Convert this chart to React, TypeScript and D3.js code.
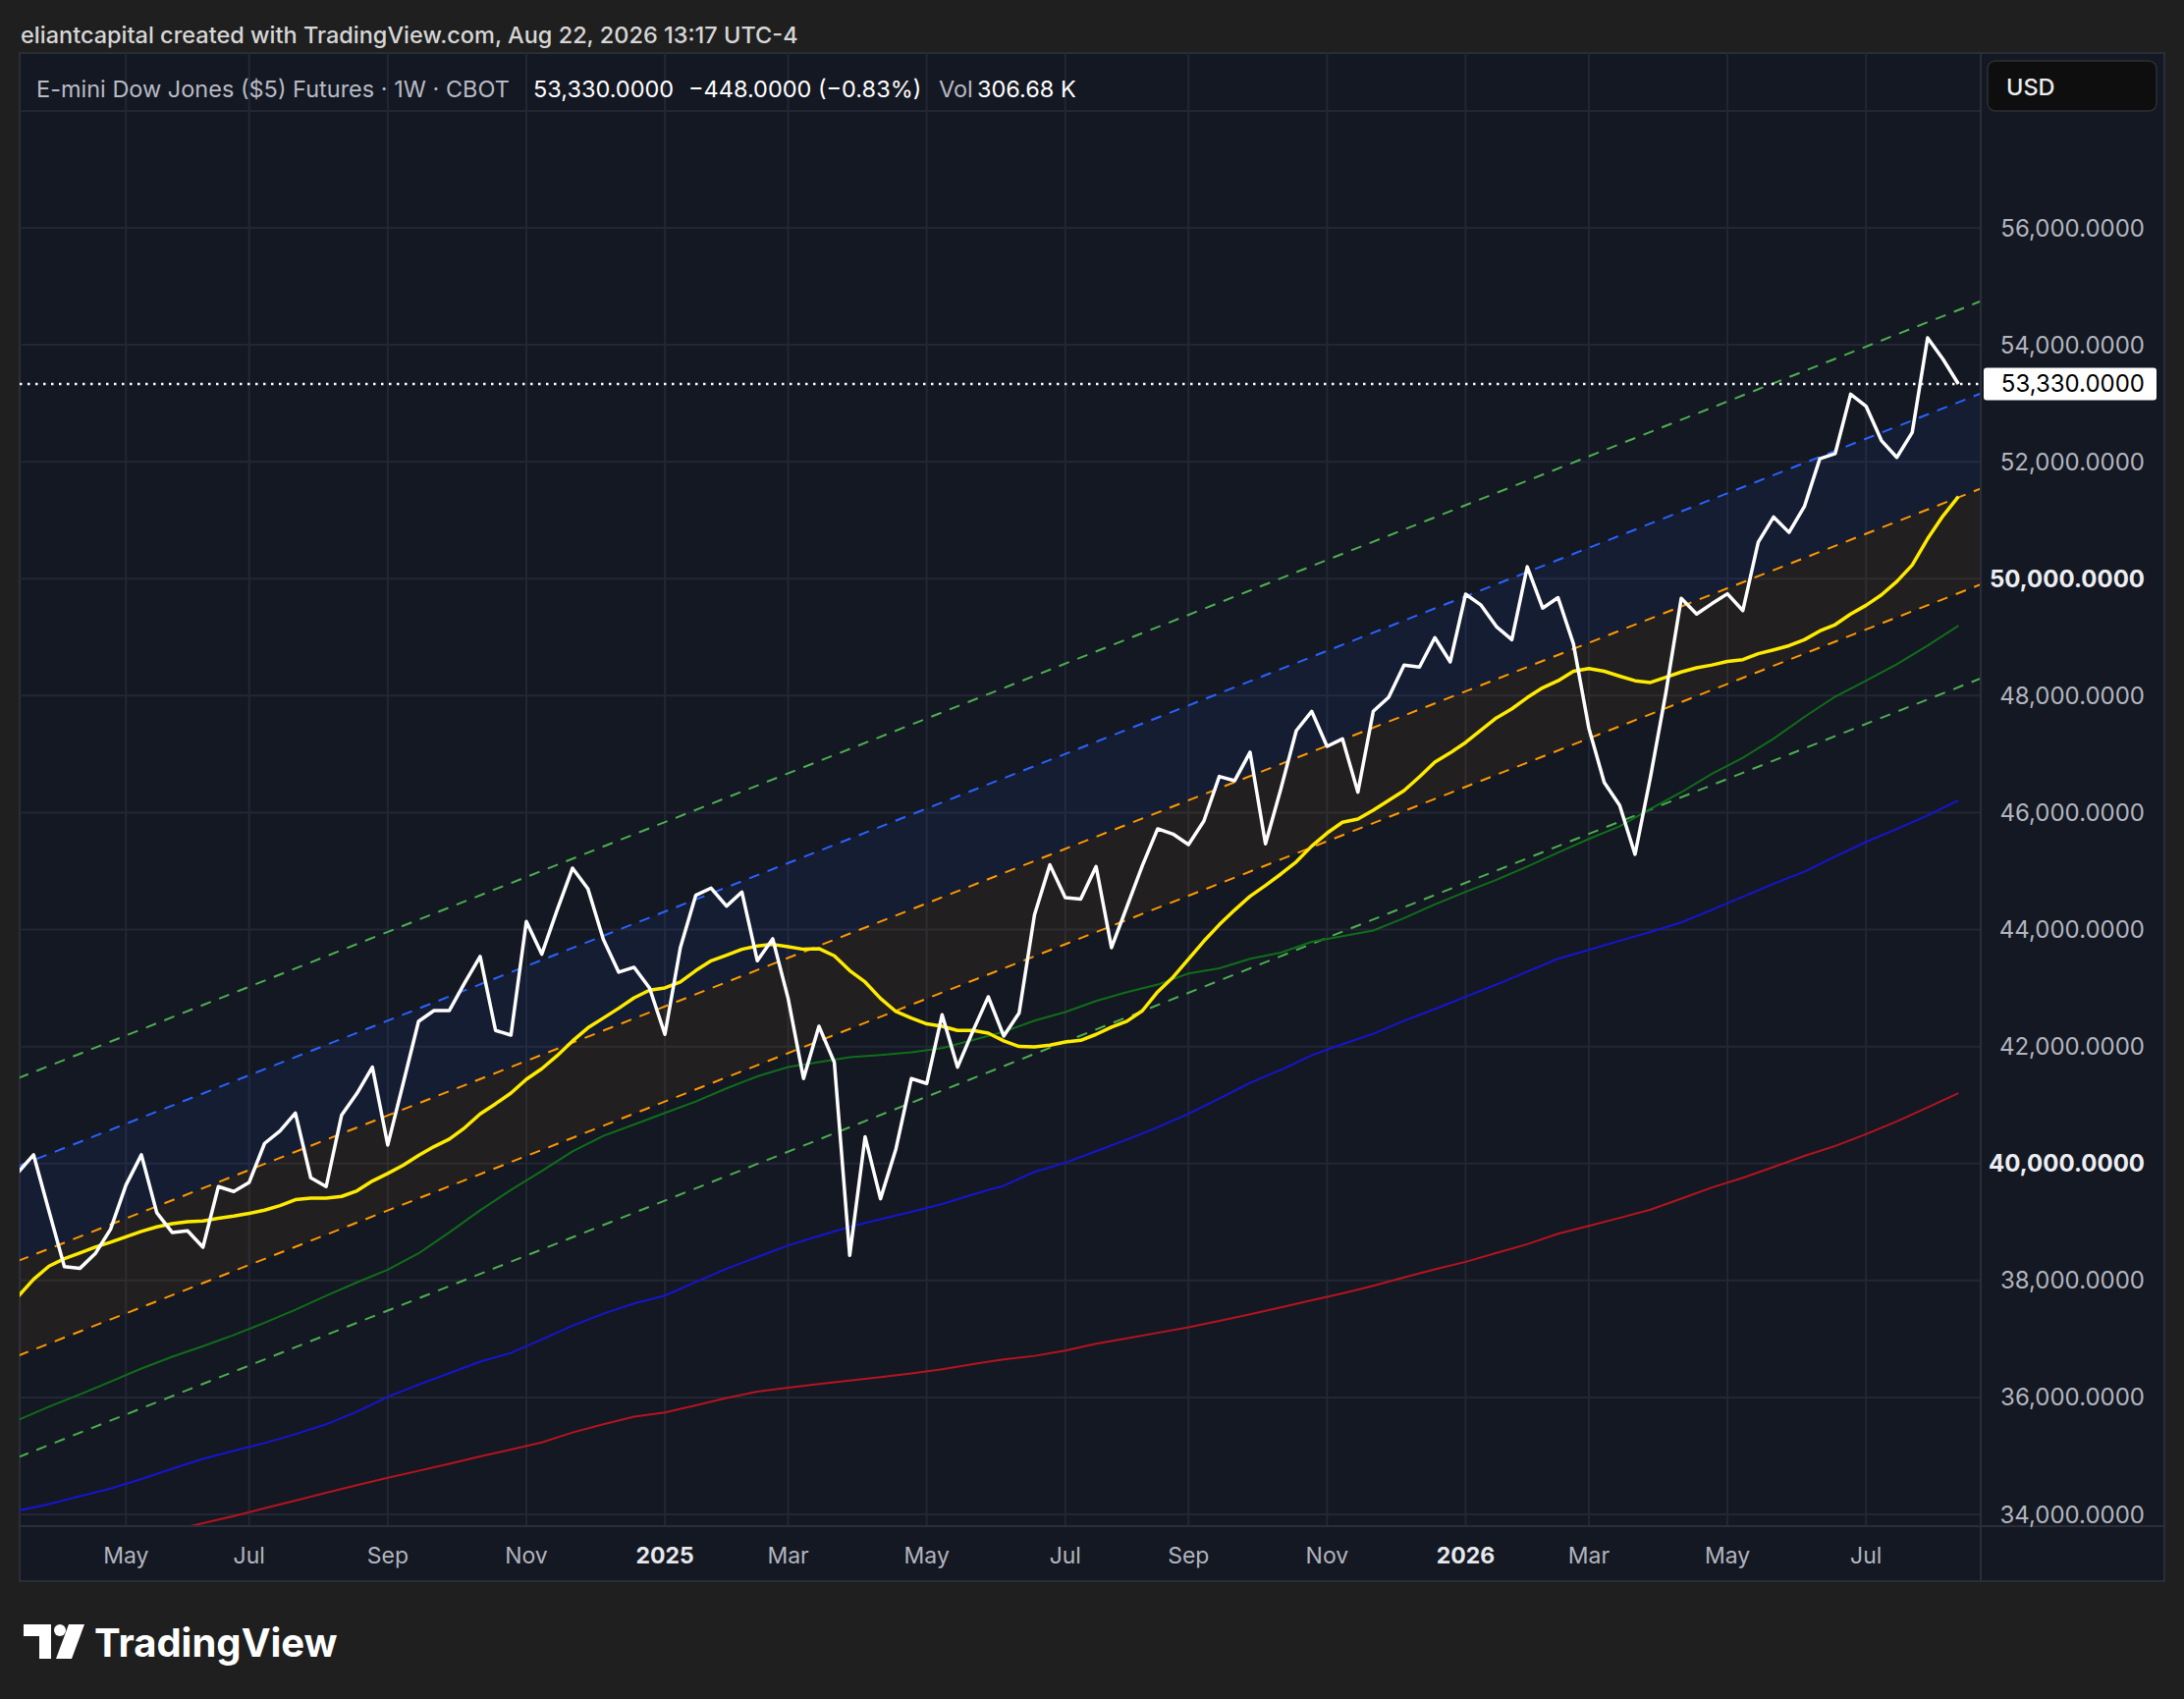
import React from 'react';
import * as d3 from 'd3';

const W = 2224;
const H = 1730;

// weekly closes, week of 18 Mar 2024 through week of 17 Aug 2026
const firstWeek = '2024-03-18';
const closes = [
  39850, 40148, 39185, 38235, 38205, 38457, 38877,
  39633, 40148, 39157, 38821, 38849, 38569, 39605, 39521, 39677, 40344,
  40556, 40864, 39756, 39605, 40825, 41200, 41648, 40316, 41368, 42431,
  42616, 42616, 43092, 43540, 42275, 42196, 44139, 43579, 44334, 45051,
  44698, 43831, 43271, 43355, 43002, 42207, 43691, 44586, 44710, 44402,
  44642, 43467, 43842, 42823, 41452, 42347, 41732, 38429, 40456, 39397,
  40248, 41452, 41368, 42543, 41648, 42264, 42851, 42179, 42572, 44251,
  45107, 44548, 44520, 45079, 43691, 44391, 45090, 45723, 45633, 45454,
  45857, 46619, 46546, 47033, 45465, 46406, 47402, 47732, 47133, 47262,
  46350, 47732, 47973, 48522, 48488, 48992, 48578, 49736, 49548, 49180,
  48957, 50204, 49497, 49676, 48885, 47445, 46516, 46126, 45287, 46606,
  48045, 49665, 49395, 49575, 49742, 49455, 50624, 51056, 50792, 51236,
  52051, 52141, 53155, 52951, 52363, 52075, 52501, 54120, 53754, 53330,
];

// yellow average, same weeks
const fastMa = [
  37730, 38021, 38245, 38373, 38469, 38569, 38653,
  38748, 38838, 38916, 38972, 39006, 39017, 39062, 39101, 39146, 39202,
  39280, 39381, 39409, 39409, 39437, 39532, 39700, 39829, 39969, 40137,
  40288, 40417, 40612, 40847, 41021, 41205, 41440, 41620, 41844, 42096,
  42320, 42487, 42655, 42834, 42963, 43002, 43103, 43299, 43467, 43562,
  43663, 43719, 43747, 43707, 43663, 43674, 43551, 43299, 43103, 42823,
  42599, 42487, 42387, 42347, 42275, 42275, 42230, 42096, 42001, 41995,
  42023, 42079, 42107, 42208, 42331, 42432, 42611, 42935, 43187, 43495,
  43803, 44083, 44335, 44570, 44755, 44950, 45158, 45426, 45650, 45835,
  45891, 46042, 46210, 46378, 46613, 46865, 47022, 47201, 47410, 47620,
  47775, 47967, 48135, 48255, 48417, 48465, 48417, 48333, 48255, 48225,
  48315, 48405, 48477, 48525, 48585, 48615, 48717, 48783, 48855, 48957,
  49107, 49215, 49395, 49545, 49724, 49952, 50234, 50684, 51074, 51404,
];

// slower averages, read every second week from firstWeek
const greenMa = [
  35614, 35841, 36051, 36270, 36494, 36695, 36877, 37067, 37276, 37500,
  37738, 37968, 38183, 38463, 38821, 39199, 39549, 39873, 40209, 40472,
  40668, 40864, 41060, 41284, 41491, 41648, 41732, 41816, 41855, 41900,
  41972, 42112, 42252, 42443, 42590, 42779, 42930, 43059, 43250, 43339,
  43500, 43607, 43790, 43887, 43985, 44195, 44430, 44645, 44850, 45077,
  45317, 45550, 45766, 46066, 46348, 46666, 46936, 47266, 47637, 47985,
  48255, 48537, 48855, 49197,
];
const blueMa = [
  34064, 34176, 34310, 34442, 34605, 34780, 34948, 35088, 35220, 35371,
  35540, 35758, 36009, 36219, 36415, 36611, 36760, 36991, 37226, 37433,
  37606, 37741, 37975, 38200, 38400, 38600, 38760, 38916, 39045, 39174,
  39308, 39470, 39620, 39857, 40014, 40210, 40410, 40620, 40850, 41110,
  41380, 41600, 41850, 42040, 42219, 42440, 42640, 42852, 43060, 43280,
  43500, 43652, 43810, 43960, 44122, 44340, 44560, 44783, 44990, 45250,
  45499, 45720, 45950, 46210,
];
// red starts lower left, below the visible range
const redStart = '2024-05-27';
const redMa = [
  33725, 33850, 33970, 34105, 34235, 34370, 34500, 34625, 34745, 34865,
  34990, 35110, 35230, 35400, 35540, 35670, 35742, 35865, 35990, 36100,
  36165, 36230, 36290, 36347, 36410, 36480, 36570, 36650, 36710, 36800,
  36919, 37010, 37105, 37198, 37310, 37422, 37540, 37660, 37780, 37910,
  38050, 38190, 38318, 38470, 38620, 38800, 38934, 39070, 39210, 39400,
  39590, 39755, 39941, 40130, 40300, 40501, 40720, 40960, 41201,
];

// regression channel, value at the two end weeks
const channelWeeks = ['2024-03-18', '2026-08-31'];
const outerUpper = [41459, 54803];
const upperBand = [39954, 53224];
const midUpper = [38335, 51598];
const midLower = [36713, 49960];
const outerLower = [34977, 48353];

const gridPrices = [34000, 36000, 38000, 40000, 42000, 44000, 46000, 48000, 50000, 52000, 54000, 56000, 58000];
const labelPrices = [34000, 36000, 38000, 40000, 42000, 44000, 46000, 48000, 50000, 52000, 54000, 56000];
const boldPrices = [40000, 50000];
const lastPrice = 53330;

const FONT = "Inter, 'Noto Sans', Roboto, sans-serif";
const BG = '#1f1f1f';
const PANEL = '#141823';
const BORDER = '#2a2e39';
const GRID = '#232734';

const fmt = (v: number) => d3.format(',.4f')(v);

export default function App() {
  const left = 20, right = 2017, top = 54, bottom = 1554;
  const panelRight = 2204, panelBottom = 1610;

  const x = d3.scaleUtc()
    .domain([new Date('2024-05-06'), new Date('2026-01-05')])
    .range([128.3, 1492.5]);
  const y = d3.scaleLinear().domain([34000, 56000]).range([1542, 232]);

  const series = (start: string, step: number, vals: number[]) =>
    vals.map((v, i) => [d3.utcDay.offset(new Date(start), step * i), v] as [Date, number]);

  const line = d3.line<[Date, number]>().x(d => x(d[0])).y(d => y(d[1]));

  const closeData = series(firstWeek, 7, closes);
  const fastData = series(firstWeek, 7, fastMa);
  const greenData = series(firstWeek, 14, greenMa);
  const blueData = series(firstWeek, 14, blueMa);
  const redData = series(redStart, 14, redMa);

  const chDates = channelWeeks.map(s => new Date(s));
  const chLine = (vals: number[]) => line(chDates.map((d, i) => [d, vals[i]] as [Date, number])) || '';
  const band = (hi: number[], lo: number[]) =>
    d3.area<number>()
      .x(i => x(chDates[i]))
      .y0(i => y(lo[i]))
      .y1(i => y(hi[i]))([0, 1]) || '';

  // first weekly bar of every second month
  const monthTicks = closeData
    .map(d => d[0])
    .filter((d, i, arr) => i > 0 && d.getUTCMonth() !== arr[i - 1].getUTCMonth() && d.getUTCMonth() % 2 === 0);

  const yLast = y(lastPrice);

  return (
    <svg width={W} height={H} style={{ position: 'absolute', left: 0, top: 0, display: 'block' }} fontFamily={FONT}>
      <defs>
        <clipPath id="plot">
          <rect x={left} y={top} width={right - left} height={bottom - top} />
        </clipPath>
      </defs>
      <rect width={W} height={H} fill={BG} />

      <text x={21} y={35} fontSize={23.5} fontWeight={500} fill="#d6d6d6" dominantBaseline="central">
        eliantcapital created with TradingView.com, Aug 22, 2026 13:17 UTC-4
      </text>

      <rect x={left} y={top} width={panelRight - left} height={panelBottom - top} fill={PANEL} stroke={BORDER} strokeWidth={2} />

      <g clipPath="url(#plot)">
        {gridPrices.map(p => (
          <line key={p} x1={left} x2={right} y1={y(p)} y2={y(p)} stroke={GRID} strokeWidth={2} />
        ))}
        {monthTicks.map(d => (
          <line key={+d} x1={x(d)} x2={x(d)} y1={top} y2={bottom} stroke={GRID} strokeWidth={2} />
        ))}

        <path d={band(upperBand, midUpper)} fill="rgba(41,98,255,0.075)" />
        <path d={band(midUpper, midLower)} fill="rgba(255,152,0,0.06)" />

        <path d={chLine(outerUpper)} fill="none" stroke="#4caf50" strokeWidth={2} strokeDasharray="11 9" />
        <path d={chLine(upperBand)} fill="none" stroke="#2962ff" strokeWidth={2} strokeDasharray="11 9" />
        <path d={chLine(midUpper)} fill="none" stroke="#ff9800" strokeWidth={2} strokeDasharray="11 9" />
        <path d={chLine(midLower)} fill="none" stroke="#ff9800" strokeWidth={2} strokeDasharray="11 9" />
        <path d={chLine(outerLower)} fill="none" stroke="#4caf50" strokeWidth={2} strokeDasharray="11 9" />

        <path d={line(redData) || ''} fill="none" stroke="#b5141e" strokeWidth={2} />
        <path d={line(blueData) || ''} fill="none" stroke="#1515d0" strokeWidth={2} />
        <path d={line(greenData) || ''} fill="none" stroke="#0f6e19" strokeWidth={2} />
        <path d={line(fastData) || ''} fill="none" stroke="#ffeb00" strokeWidth={3.5} strokeLinejoin="round" />
        <path d={line(closeData) || ''} fill="none" stroke="#ffffff" strokeWidth={3.5} strokeLinejoin="round" />

        <line x1={left} x2={right} y1={yLast} y2={yLast} stroke="#ffffff" strokeWidth={2.5} strokeDasharray="2.5 5.5" />
      </g>

      {/* panel separators */}
      <line x1={right} x2={right} y1={top} y2={panelBottom} stroke={BORDER} strokeWidth={2} />
      <line x1={left} x2={panelRight} y1={bottom} y2={bottom} stroke={BORDER} strokeWidth={2} />

      {/* legend */}
      <text y={90} fontSize={23.5} dominantBaseline="central">
        <tspan x={37} fill="#b8bbc4">E-mini Dow Jones ($5) Futures · 1W · CBOT</tspan>
        <tspan x={543} fill="#ffffff">53,330.0000</tspan>
        <tspan x={701} fill="#ffffff">−448.0000 (−0.83%)</tspan>
        <tspan x={956} fill="#b8bbc4">Vol</tspan>
        <tspan x={995} fill="#ffffff">306.68 K</tspan>
      </text>

      {/* price axis */}
      {labelPrices.map(p => {
        const bold = boldPrices.includes(p);
        return (
          <text key={p} x={2184} y={y(p)} textAnchor="end" dominantBaseline="central" fontSize={24}
            fill={bold ? '#eceef2' : '#b2b5be'} fontWeight={bold ? 700 : 400}>
            {fmt(p)}
          </text>
        );
      })}
      <rect x={2020} y={yLast - 16.5} width={176} height={33} rx={3} fill="#ffffff" />
      <text x={2184} y={yLast} textAnchor="end" dominantBaseline="central" fontSize={24} fill="#000000">
        {fmt(lastPrice)}
      </text>

      <rect x={2024} y={62} width={172} height={51} rx={8} fill="#0e0e0e" stroke="#2e2f33" strokeWidth={1.5} />
      <text x={2043} y={88} fontSize={23.5} fontWeight={500} fill="#ececec" dominantBaseline="central">USD</text>

      {/* time axis */}
      {monthTicks.map(d => {
        const jan = d.getUTCMonth() === 0;
        return (
          <text key={+d} x={x(d)} y={1584} textAnchor="middle" dominantBaseline="central" fontSize={23}
            fill={jan ? '#e6e8ec' : '#b2b5be'} fontWeight={jan ? 700 : 400}>
            {jan ? d3.utcFormat('%Y')(d) : d3.utcFormat('%b')(d)}
          </text>
        );
      })}

      {/* TradingView mark */}
      <g fill="#ffffff">
        <path d="M24,1654 H52 V1689 H40 V1666 H24 Z" />
        <circle cx={61} cy={1660} r={6} />
        <path d="M70,1654 H86 L73,1689 H57 Z" />
        <text x={96} y={1672} fontSize={40} fontWeight={700} letterSpacing={0} dominantBaseline="central">
          TradingView
        </text>
      </g>
    </svg>
  );
}
